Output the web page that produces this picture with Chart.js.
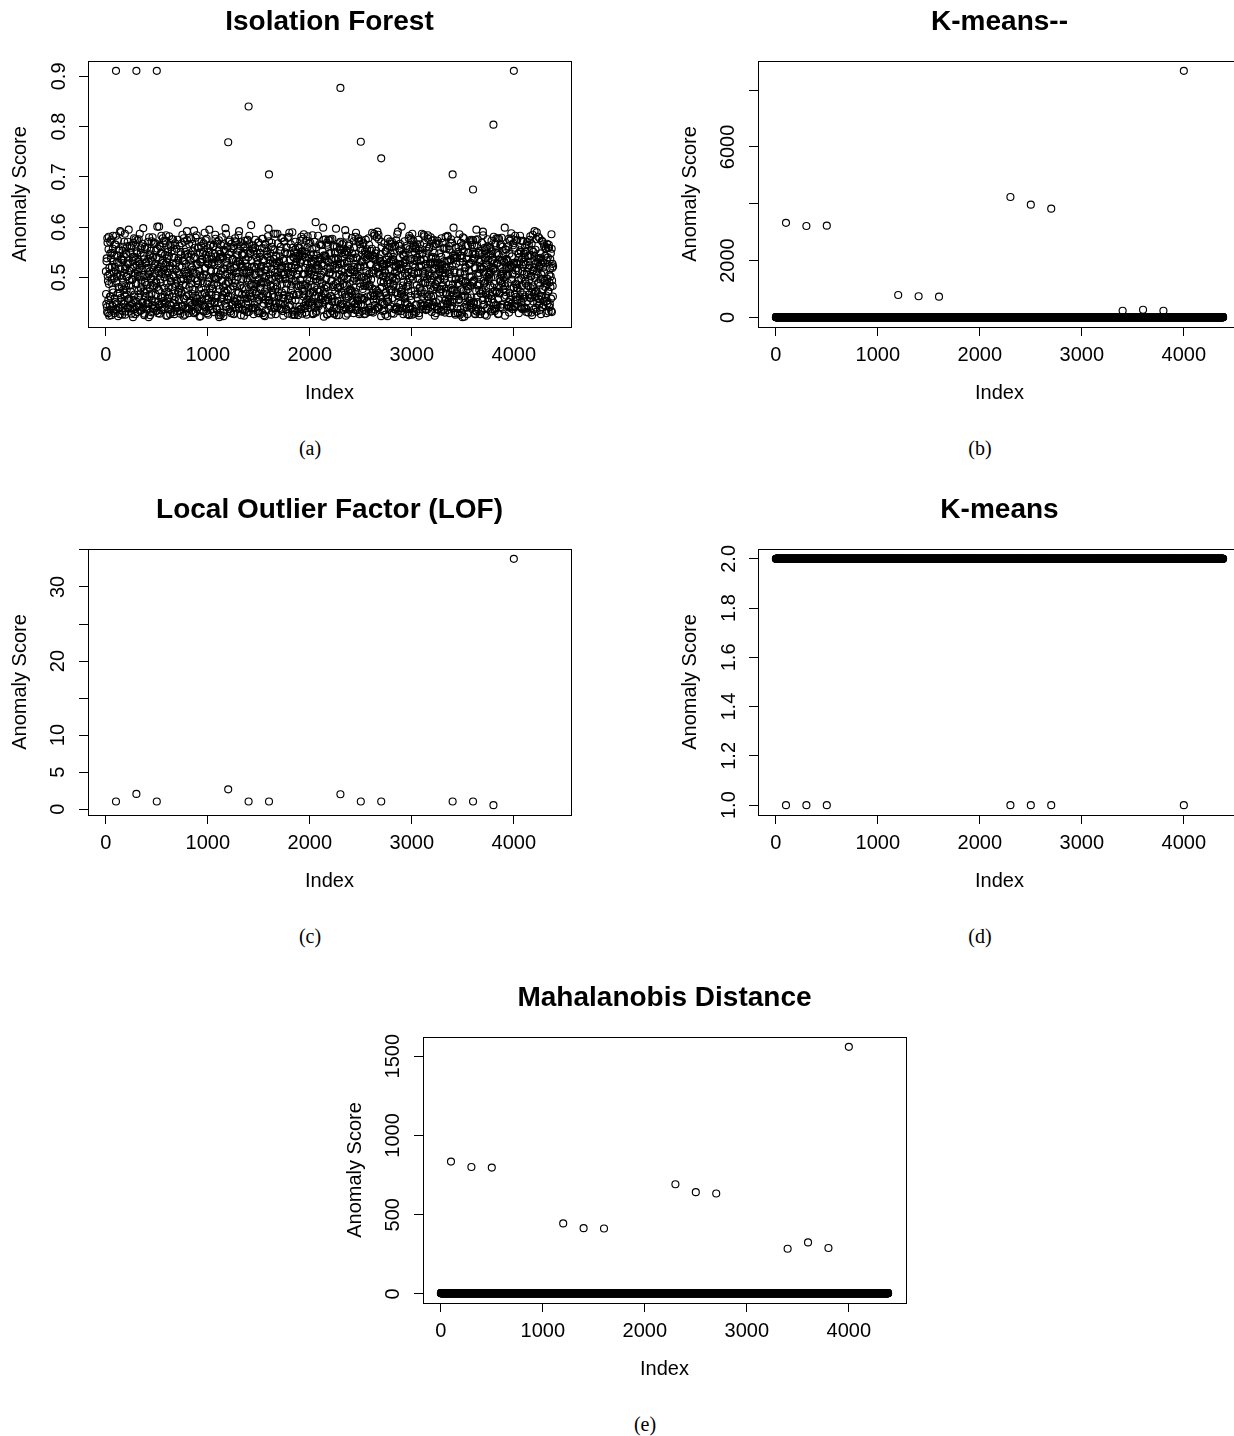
<!DOCTYPE html>
<html lang="en">
<head>
<meta charset="UTF-8">
<title>Anomaly scores by method</title>
<script src="https://cdn.jsdelivr.net/npm/chart.js"></script>
<style>
  html, body { margin: 0; padding: 0; background: #fff; overflow: hidden; }
  body { width: 1234px; height: 1436px; position: relative; }
  .panel { position: absolute; width: 620px; height: 430px; }
  .cap { position: absolute; width: 620px; line-height: 20px; text-align: center;
         font-family: "Liberation Serif", "Times New Roman", serif; font-size: 20px; color: #000; }
</style>
</head>
<body>
<div class="panel" style="left:0;top:0"><canvas id="pIF" width="620" height="430"></canvas></div>
<div class="panel" style="left:670px;top:0"><canvas id="pKMM" width="620" height="430"></canvas></div>
<div class="panel" style="left:0;top:488px"><canvas id="pLOF" width="620" height="430"></canvas></div>
<div class="panel" style="left:670px;top:488px"><canvas id="pKM" width="620" height="430"></canvas></div>
<div class="panel" style="left:335px;top:976px"><canvas id="pMAH" width="620" height="430"></canvas></div>
<div class="cap" style="left:0;top:438px">(a)</div>
<div class="cap" style="left:670px;top:438px">(b)</div>
<div class="cap" style="left:0;top:926px">(c)</div>
<div class="cap" style="left:670px;top:926px">(d)</div>
<div class="cap" style="left:335px;top:1414px">(e)</div>

<script>
// ---- data ----
const N = 4385;  // observations, plotted at index 1..N
const anomalyIdx = [100, 300, 500, 1200, 1400, 1600, 2300, 2500, 2700, 3400, 3600, 3800, 4000];
const xTicks = [0, 1000, 2000, 3000, 4000];

// Isolation Forest: scores of the injected anomalies
const ifAnomaly = [0.911, 0.911, 0.911, 0.769, 0.840, 0.705, 0.877, 0.770, 0.737, 0.705, 0.675, 0.804, 0.911];
// regular points (thousandths), read every 4th index: set A from index 1, set B from index 3
const ifBandStep = 4;
const ifBandA = [
  512,447,538,431,569,493,455,581,424,507,462,548,436,575,489,521,443,557,470,532,
  498,429,566,451,514,583,437,502,544,468,423,529,477,556,441,592,505,459,537,482,
  426,553,490,534,448,571,463,517,432,546,501,475,562,439,526,457,595,484,513,444,
  549,472,428,563,496,438,541,520,455,578,466,509,427,536,487,552,442,574,503,461,
  531,445,519,587,433,558,478,495,524,451,567,440,505,543,425,490,561,469,528,436,
  474,559,502,448,537,421,580,463,512,546,431,499,572,456,520,484,541,437,566,508,
  443,527,466,554,489,434,601,517,452,539,475,563,428,496,548,461,583,511,447,534,
  568,453,515,479,441,545,506,573,424,488,530,459,551,471,437,582,499,523,446,560,
  491,436,576,462,528,505,449,540,427,564,483,516,441,557,494,433,609,471,538,455,
  522,479,433,551,497,470,568,442,533,486,424,578,458,511,545,439,527,503,462,574,
  438,547,509,429,566,481,454,535,498,576,445,520,467,552,430,509,593,476,541,450,
  579,460,524,493,437,558,486,446,571,513,452,530,423,563,479,536,457,500,548,432,
  506,442,589,468,519,545,433,577,488,458,528,426,550,499,470,563,435,514,542,465,
  454,536,478,562,431,501,526,449,585,464,542,497,438,567,484,450,528,574,421,506,
  547,430,513,457,580,492,465,539,423,555,472,516,448,598,487,530,441,561,508,475,
  463,571,491,437,521,550,476,429,567,503,445,537,482,557,427,519,489,572,451,533,
  525,458,544,501,469,584,440,511,532,455,570,425,497,546,466,523,436,559,480,514,
  434,562,476,528,447,509,573,458,494,540,431,566,513,461,549,485,604,439,521,470,
  558,483,427,553,506,439,575,467,518,487,548,452,533,429,569,496,460,541,477,512,
  488,523,461,577,443,536,492,425,558,472,515,565,434,503,545,468,521,582,448,497,
  572,449,506,535,482,426,561,497,451,530,466,587,440,554,510,477,427,543,491,528,
  441,511,568,463,532,499,448,553,517,436,578,486,523,459,537,424,571,506,465,550,
  519,476,437,560,488,547,428,509,581,463,498,536,445,566,483,520,454,590,432,541,
  465,539,494,426,571,455,524,486,549,432,506,563,470,514,442,558,496,437,529,581,
  535,428,552,507,462,586,473,438,541,519,451,573,426,497,560,481,513,449,567,493,
  450,569,485,531,444,512,557,470,429,546,505,481,537,464,610,430,544,502,476,522,
  583,461,518,447,539,474,501,564,436,527,489,552,459,575,422,511,536,468,543,455,
  497,534,426,565,481,456,530,508,574,443,517,462,549,494,433,577,458,524,485,439,
  428,550,473,519,597,438,561,492,453,536,480,425,568,506,528,447,555,471,512,566,
  541,487,557,435,502,528,466,546,424,583,459,531,497,443,520,563,436,488,556,477,
  469,515,440,579,454,493,538,429,560,511,472,547,435,589,501,456,538,520,446,571,
  503,427,566,482,520,446,574,500,457,531,445,569,484,522,459,540,428,575,496,536,
  556,462,499,544,431,565,483,525,440,553,496,432,557,478,544,430,508,463,583,445,
  436,548,520,457,580,473,441,518,585,469,538,507,462,530,492,571,451,527,433,502,
  527,490,434,568,512,426,552,464,535,494,423,577,452,515,438,561,503,489,547,470,
  476,571,459,499,541,486,532,437,509,562,471,524,497,441,586,469,527,433,563,518,
  553,439,527,467,433,601,466,546,484,427,545,461,572,508,450,535,482,558,504,447,
  490,516,578,425,556,498,442,574,455,537,502,587,438,526,563,428,551,474,520,561,
  431,558,485,540,467,512,575,429,521,479,566,448,533,490,474,546,437,512,443,585,
  568,446,507,489,526,437,553,497,462,584,437,510,557,466,528,503,580,461,537,495,
  445,530,463,575,481,549,424,519,567,451,524,480,442,573,495,436,517,548,470,526,
  517,477,541,432,504,569,485,448,532,496,559,430,509,478,545,557,467,435,581,452,
  486,562,429,515,451,536,576,471,443,523,475,544,599,456,510,429,540,496,527,463,
  539,438,574,487,560,455,498,531,508,437,569,495,462,538,421,580,473,552,441,512,
  462,520,492,446,537,483,427,563,477,549,513,454,526,484,570,449,502,565,488,534,
  574,493,451,563,428,520,546,434,595,461,484,576,436,504,549,475,531,427,516,468,
  434,547,518,472,591,446,510,488,554,426,539,466,525,557,439,561,493,459,543,505,
  509,466,560,432,500,573,457,535,480,515,450,528,487,433,568,512,445,578,471,527,
  548,427,481,545,468,535,492,441,566,503,579,440,553,512,477,500,532,488,424,556,
  471,555,535,505,445,489,562,517,430,547,469,520,464,578,496,542,437,508,564,480,
  526,443,466,583,514,456,528,479,575,455,493,547,429,540,457,583,472,551,498,439,
  437,512,573,458,531,507,440,560,492,526,438,566,511,484,531,430,519,466,542,575,
  582,479,502,430,555,471,585,452,514,467,543,499,461,555,473,506,590,450,530,488,
  490,538,446,521,484,548,427,506,533,441,571,476,520,445,562,493,528,481,557,464,
  453,567,497,540,473,432,559,490,447,536,502,458,586,431,519,483,522
];
const ifBandB = [
  467,532,441,578,503,429,556,487,519,446,571,462,538,425,497,549,476,583,434,511,
  544,458,521,436,565,492,448,530,507,574,439,481,553,469,427,516,590,452,535,498,
  433,561,475,542,509,454,587,426,520,483,547,466,502,571,441,528,457,494,563,438,
  518,484,559,447,495,533,421,569,462,541,504,437,576,489,452,525,548,431,511,473,
  576,442,503,527,468,549,435,488,562,515,449,598,472,536,428,557,491,463,530,447,
  485,519,454,571,437,506,544,478,425,553,496,467,532,445,580,502,439,569,482,524,
  451,568,492,433,540,481,557,429,513,474,601,446,521,561,490,435,548,507,459,578,
  529,437,573,500,462,526,449,584,471,538,424,509,556,480,543,465,518,427,565,493,
  444,553,481,518,576,431,502,539,455,568,487,461,529,438,512,575,444,534,471,506,
  563,476,428,546,493,470,521,585,443,497,532,458,571,426,551,485,507,463,592,439,
  496,541,465,503,437,579,450,524,488,545,434,567,476,515,460,538,429,559,498,452,
  431,507,584,458,527,494,441,560,476,422,549,503,447,531,572,467,536,489,445,568,
  552,469,518,441,574,505,463,537,429,558,492,526,441,595,478,448,565,512,483,527,
  478,530,437,562,486,451,547,498,577,459,511,436,571,464,532,501,425,553,477,540,
  537,425,564,495,459,542,482,430,518,566,473,551,506,443,587,469,524,457,539,491,
  462,546,500,574,432,515,461,558,494,446,535,483,428,562,519,453,578,441,509,570,
  509,482,447,531,553,470,592,439,527,484,562,447,521,478,436,544,496,566,424,547,
  573,458,535,467,498,431,521,575,452,510,439,583,468,548,503,462,533,487,556,436,
  440,564,476,522,446,559,487,505,540,471,526,495,433,570,455,511,429,549,480,518,
  521,491,558,429,577,463,448,533,498,423,567,456,514,490,552,478,541,463,597,454,
  455,528,442,548,485,517,569,474,432,556,482,537,461,528,439,587,501,448,523,482,
  587,471,504,463,531,439,542,496,561,448,519,470,579,433,506,458,534,572,445,497,
  498,436,560,488,514,579,457,521,443,589,462,505,547,474,520,492,426,559,511,466,
  426,550,519,434,556,492,531,465,506,537,425,559,483,542,466,531,573,484,437,551,
  544,477,486,577,443,506,466,552,484,430,547,488,527,456,582,445,508,466,538,519,
  469,515,546,452,528,448,584,427,533,472,503,571,440,517,497,560,433,525,492,449,
  532,443,471,566,495,536,457,505,463,565,450,523,599,468,544,478,542,454,576,485,
  481,569,427,519,460,575,441,548,510,429,576,463,493,535,452,506,481,563,428,539,
  561,452,535,487,503,425,526,480,537,466,519,436,556,482,571,443,527,498,549,466,
  447,503,568,441,550,483,594,462,438,553,485,550,428,509,461,532,566,475,510,538,
  516,473,437,548,472,515,451,572,498,521,447,581,467,540,493,435,519,453,578,461,
  573,430,524,488,558,460,532,433,554,477,566,456,502,427,551,483,547,434,513,492,
  453,546,482,578,436,507,486,541,463,526,432,510,589,469,538,456,514,587,463,541,
  535,476,553,465,524,591,439,510,576,440,505,533,478,546,423,560,481,521,448,503,
  490,527,446,509,469,552,471,526,452,559,487,460,542,495,530,476,572,443,533,567,
  429,561,501,536,483,428,548,493,565,436,521,574,438,513,465,591,450,504,480,525,
  567,448,519,472,556,475,503,439,528,491,542,464,530,458,549,437,522,563,427,482,
  511,485,437,583,441,534,463,578,473,511,426,558,496,573,432,507,535,466,557,445,
  446,532,566,459,509,497,554,424,547,480,535,470,523,444,587,462,548,489,502,536,
  582,467,490,527,435,561,443,519,462,577,448,506,560,485,441,526,478,540,431,573,
  475,541,451,563,503,442,528,487,538,429,566,491,436,529,507,568,455,512,476,497,
  523,434,578,482,526,515,470,557,436,502,519,454,581,468,521,448,533,583,447,532,
  458,555,507,441,568,479,534,498,569,451,487,539,464,514,474,544,426,497,559,468,
  540,471,429,551,489,457,586,426,510,543,476,562,430,556,492,531,463,578,422,506,
  489,520,563,474,440,537,460,549,482,527,443,501,574,445,529,460,575,440,547,491,
  551,447,495,538,518,427,575,473,432,564,508,451,536,484,553,509,487,521,468,534,
  432,569,475,455,584,493,521,446,559,490,528,469,547,424,501,576,452,535,497,558,
  506,484,544,512,463,552,437,534,471,519,581,437,518,473,565,438,549,472,529,444,
  578,456,428,577,497,470,564,493,507,446,534,488,561,507,476,530,461,599,483,516,
  464,537,520,444,533,505,451,577,440,573,456,524,441,588,448,521,506,437,568,479,
  529,441,559,487,461,573,486,519,527,478,513,548,495,530,462,554,441,573,451,536,
  483,572,466,526,548,438,540,462,488,551,431,506,571,453,543,483,565,495,524,459,
  545,459,503,567,425,513,482,551,436,520,592,471,527,440,576,432,512,537,468,581,
  457,523,578,435,539,496,462,527,573,463,497,530,452,566,510,489,543,460,558,429,
  534,487,448,559,472,565,505,441,518,481,548,433,557,494,527,462
];
const ifTicks = [0.5, 0.6, 0.7, 0.8, 0.9];

// K-means--: anomalies, every other point scores about 0
const kmmAnomaly = [3330, 3220, 3230, 790, 745, 730, 4240, 3970, 3830, 235, 270, 235, 8680];
const kmmRegular = 10;
const kmmTicks = [0, 2000, 4000, 6000, 8000];
const kmmLabels = [0, 2000, 6000];

// LOF: only the anomalies have finite scores
const lofAnomaly = [1.03, 2.06, 1.03, 2.68, 1.03, 1.03, 2.01, 1.03, 1.03, 1.03, 1.03, 0.54, 33.8];
const lofTicks = [0, 5, 10, 15, 20, 25, 30, 35];
const lofLabels = [0, 5, 10, 20, 30];

// K-means: cluster-based score, regular points are 2
const kmAnomaly = [1, 1, 1, 2, 2, 2, 1, 1, 1, 2, 2, 2, 1];
const kmRegular = 2;
const kmTicks = [1.0, 1.2, 1.4, 1.6, 1.8, 2.0];

// Mahalanobis distance
const mahAnomaly = [835, 801, 797, 445, 415, 413, 692, 642, 634, 285, 325, 290, 1559];
const mahRegular = 5;
const mahTicks = [0, 500, 1000, 1500];

// ---- helpers ----
Chart.defaults.font.family = "'Liberation Sans', Arial, Helvetica, sans-serif";
Chart.defaults.color = '#000';

function withRegular(anomaly, regular) {
  const pts = [];
  for (let i = 1; i <= N; i++) {
    const k = anomalyIdx.indexOf(i);
    pts.push({x: i, y: k >= 0 ? anomaly[k] : regular});
  }
  return pts;
}
function anomaliesOnly(anomaly) {
  return anomalyIdx.map((x, k) => ({x: x, y: anomaly[k]}));
}
function sampled(vals, start, step) {
  return vals.map((v, j) => ({x: start + j * step, y: v / 1000}));
}
// R style axis range: data range widened by 4% each side
function rRange(vals) {
  let lo = Infinity, hi = -Infinity;
  vals.forEach(v => { if (v < lo) lo = v; if (v > hi) hi = v; });
  const d = (hi - lo) * 0.04;
  return [lo - d, hi + d];
}

const boxPlugin = {
  id: 'rbox',
  afterDatasetsDraw(chart) {
    const a = chart.chartArea, ctx = chart.ctx;
    ctx.save();
    ctx.strokeStyle = '#000';
    ctx.lineWidth = 1;
    ctx.strokeRect(Math.round(a.left) + 0.5, Math.round(a.top) + 0.5,
                   Math.round(a.right - a.left), Math.round(a.bottom - a.top));
    ctx.restore();
  }
};

function makePanel(id, title, pts, yTicks, yLabels, decimals, labelPad) {
  const xr = rRange([1, N]);
  const yr = rRange(pts.map(p => p.y));
  return new Chart(document.getElementById(id), {
    type: 'scatter',
    data: { datasets: [{
      data: pts,
      pointStyle: 'circle',
      pointRadius: 3.5,
      pointBorderWidth: 1.15,
      pointBorderColor: '#000',
      pointBackgroundColor: 'rgba(0,0,0,0)'
    }] },
    options: {
      responsive: false,
      animation: false,
      events: [],
      layout: { padding: { left: 0, right: 49, top: 0, bottom: 23 } },
      plugins: {
        legend: { display: false },
        tooltip: { enabled: false },
        title: {
          display: true, text: title, fullSize: false, color: '#000',
          font: { size: 28, weight: 'bold' },
          padding: { top: 5, bottom: 22.4 }
        }
      },
      scales: {
        x: {
          type: 'linear', min: xr[0], max: xr[1],
          afterBuildTicks: s => { s.ticks = xTicks.map(v => ({value: v})); },
          afterFit: s => { s.height = 80; s.paddingLeft = 0; s.paddingRight = 0; },
          ticks: { autoSkip: false, maxRotation: 0, padding: 7, font: { size: 20 }, color: '#000',
                   callback: v => String(v) },
          grid: { display: true, drawOnChartArea: false, drawTicks: true, tickLength: 9, color: '#000' },
          border: { display: false },
          title: { display: true, text: 'Index', font: { size: 20 }, color: '#000', padding: { top: 0, bottom: 2 } }
        },
        y: {
          type: 'linear', min: yr[0], max: yr[1],
          afterBuildTicks: s => { s.ticks = yTicks.map(v => ({value: v})); },
          afterFit: s => { s.width = 88; s.paddingTop = 0; s.paddingBottom = 0; },
          ticks: { autoSkip: false, minRotation: 90, maxRotation: 90, crossAlign: 'center',
                   padding: labelPad, font: { size: 20 }, color: '#000',
                   callback: v => (yLabels.some(l => Math.abs(l - v) < 1e-9) ? v.toFixed(decimals) : '') },
          grid: { display: true, drawOnChartArea: false, drawTicks: true, tickLength: 9, color: '#000' },
          border: { display: false },
          title: { display: true, text: 'Anomaly Score', font: { size: 20 }, color: '#000', padding: { top: 8, bottom: 0 } }
        }
      }
    },
    plugins: [boxPlugin]
  });
}

// ---- panels ----
const ifPts = sampled(ifBandA, 1, ifBandStep)
  .concat(sampled(ifBandB, 3, ifBandStep))
  .concat(anomaliesOnly(ifAnomaly));
makePanel('pIF', 'Isolation Forest', ifPts, ifTicks, ifTicks, 1, 6);
makePanel('pKMM', 'K-means--', withRegular(kmmAnomaly, kmmRegular), kmmTicks, kmmLabels, 0, -2);
makePanel('pLOF', 'Local Outlier Factor (LOF)', anomaliesOnly(lofAnomaly), lofTicks, lofLabels, 0, 9);
makePanel('pKM', 'K-means', withRegular(kmAnomaly, kmRegular), kmTicks, kmTicks, 1, 6);
makePanel('pMAH', 'Mahalanobis Distance', withRegular(mahAnomaly, mahRegular), mahTicks, mahTicks, 0, -2);
</script>
</body>
</html>
